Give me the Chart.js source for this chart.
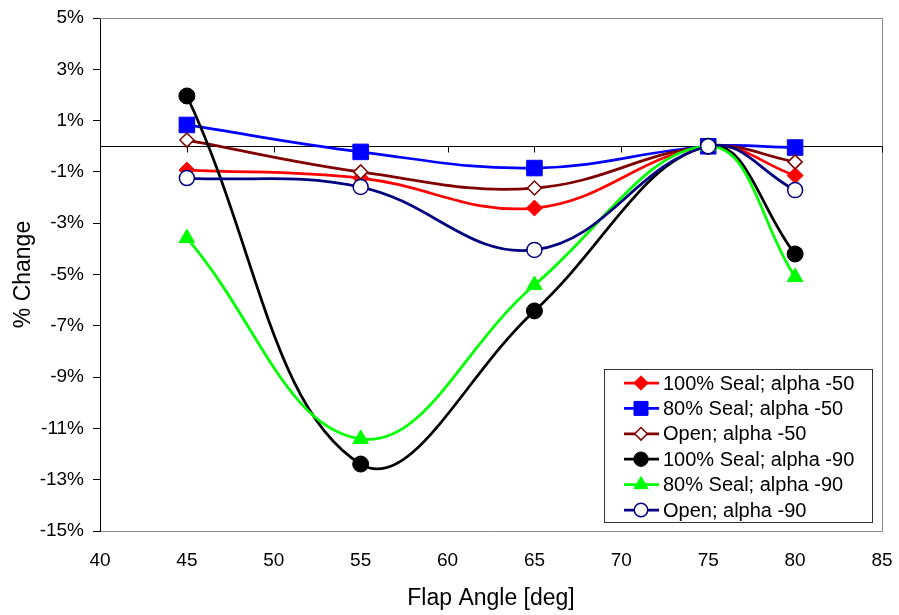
<!DOCTYPE html>
<html>
<head>
<meta charset="utf-8">
<script src="https://cdn.jsdelivr.net/npm/chart.js@4"></script>
<style>
  html, body { margin: 0; padding: 0; background: #fff; }
</style>
</head>
<body>
<canvas id="myChart" width="899" height="615"></canvas>
<script>
// flap angles (deg)
var flapAngles = [45, 55, 65, 75, 80];

// % change per configuration
var seal100Alpha50 = [-0.93, -1.24, -2.41, 0, -1.14];
var seal80Alpha50 = [0.83, -0.22, -0.85, 0, -0.05];
var openAlpha50 = [0.24, -1.0, -1.63, 0, -0.61];
var seal100Alpha90 = [1.96, -12.39, -6.42, 0, -4.2];
var seal80Alpha90 = [-3.58, -11.41, -5.41, 0, -5.1];
var openAlpha90 = [-1.24, -1.59, -4.04, 0, -1.71];

var seriesNames = ["100% Seal; alpha -50", "80% Seal; alpha -50", "Open; alpha -50",
                   "100% Seal; alpha -90", "80% Seal; alpha -90", "Open; alpha -90"];
var seriesValues = [seal100Alpha50, seal80Alpha50, openAlpha50, seal100Alpha90, seal80Alpha90, openAlpha90];

var lineColors = ["#ff0000", "#0000ff", "#800000", "#000000", "#00ff00", "#000080"];
var fillColors = ["#ff0000", "#0000ff", "#ffffff", "#000000", "#00ff00", "#ffffff"];
var markers = ["rectRot", "rect", "rectRot", "circle", "triangle", "circle"];
var markerSizes = [8, 11, 7, 8, 9, 7.5];

var yTickValues = [-15, -13, -11, -9, -7, -5, -3, -1, 1, 3, 5];
var xTickValues = [40, 45, 50, 55, 60, 65, 70, 75, 80, 85];

var font = "'Liberation Sans', Arial, sans-serif";

function toPoints(vals) {
  return vals.map(function (v, i) { return { x: flapAngles[i], y: v }; });
}

var datasets = seriesValues.map(function (vals, i) {
  return {
    label: seriesNames[i],
    data: toPoints(vals),
    borderColor: lineColors[i],
    backgroundColor: fillColors[i],
    pointBackgroundColor: fillColors[i],
    pointBorderColor: lineColors[i],
    pointBorderWidth: (fillColors[i] == "#ffffff") ? 1.5 : 1,
    pointStyle: markers[i],
    pointRadius: markerSizes[i],
    borderWidth: 2.75,
    tension: 0.4,
    order: 6 - i,
    clip: false
  };
});

// zero line, top/right frame, x tick marks on the zero line, in-plot legend
var extras = {
  id: "extras",
  beforeDatasetsDraw: function (chart) {
    var ctx = chart.ctx, a = chart.chartArea;
    var xs = chart.scales.x, ys = chart.scales.y;
    ctx.save();
    ctx.strokeStyle = "#888";
    ctx.lineWidth = 1;
    ctx.beginPath();
    ctx.moveTo(a.left, a.top + 0.5); ctx.lineTo(a.right + 0.5, a.top + 0.5);
    ctx.lineTo(a.right + 0.5, a.bottom);
    ctx.stroke();
    var y0 = Math.round(ys.getPixelForValue(0)) + 0.5;
    ctx.strokeStyle = "#000";
    ctx.beginPath();
    ctx.moveTo(a.left, y0); ctx.lineTo(a.right, y0);
    xTickValues.forEach(function (t) {
      var px = Math.round(xs.getPixelForValue(t)) + 0.5;
      ctx.moveTo(px, y0); ctx.lineTo(px, y0 + 6);
    });
    ctx.stroke();
    ctx.restore();
  },
  afterDraw: function (chart) {
    var ctx = chart.ctx;
    var bx = 604, by = 369, bw = 268, bh = 153;
    ctx.save();
    ctx.fillStyle = "#fff";
    ctx.fillRect(bx, by, bw, bh);
    ctx.strokeStyle = "#333";
    ctx.lineWidth = 1;
    ctx.strokeRect(bx + 0.5, by + 0.5, bw, bh);
    ctx.font = "20px " + font;
    ctx.textBaseline = "middle";
    chart.data.datasets.forEach(function (ds, i) {
      var y = by + 14 + i * 25.4;
      ctx.strokeStyle = ds.borderColor;
      ctx.lineWidth = 2.75;
      ctx.beginPath();
      ctx.moveTo(624, y); ctx.lineTo(659, y);
      ctx.stroke();
      ctx.fillStyle = ds.pointBackgroundColor;
      ctx.strokeStyle = ds.pointBorderColor;
      ctx.lineWidth = ds.pointBorderWidth;
      Chart.helpers.drawPoint(ctx, {
        pointStyle: ds.pointStyle,
        radius: ds.pointRadius * 0.9,
        rotation: 0,
        borderWidth: ds.pointBorderWidth
      }, 641, y);
      ctx.fillStyle = "#000";
      ctx.fillText(ds.label, 663, y + 1);
    });
    ctx.restore();
  }
};

new Chart("myChart", {
  type: "line",
  data: { datasets: datasets },
  plugins: [extras],
  options: {
    responsive: false,
    animation: false,
    layout: { padding: { top: 18, right: 17, left: 0, bottom: 0 } },
    plugins: {
      legend: { display: false },
      tooltip: { enabled: false }
    },
    scales: {
      x: {
        type: "linear",
        min: 40,
        max: 85,
        afterBuildTicks: function (s) { s.ticks = xTickValues.map(function (v) { return { value: v }; }); },
        afterFit: function (s) { s.height = 84; s.paddingLeft = 0; s.paddingRight = 0; },
        grid: { display: false, drawTicks: false },
        border: { color: "#888", width: 1 },
        ticks: { color: "#000", font: { family: font, size: 19 }, padding: 18, maxRotation: 0 },
        title: { display: true, text: "Flap Angle [deg]", color: "#000", font: { family: font, size: 23 }, padding: { top: 0, bottom: 3 } }
      },
      y: {
        min: -15,
        max: 5,
        afterBuildTicks: function (s) { s.ticks = yTickValues.map(function (v) { return { value: v }; }); },
        afterFit: function (s) { s.width = 100; s.paddingTop = 0; s.paddingBottom = 0; },
        grid: { drawOnChartArea: false, drawTicks: true, tickLength: 7, color: "#000" },
        border: { color: "#000", width: 1 },
        ticks: {
          color: "#000",
          font: { family: font, size: 19 },
          padding: 9,
          callback: function (v) { return v + "%"; }
        },
        title: { display: true, text: "% Change", color: "#000", font: { family: font, size: 23 }, padding: { top: 10, bottom: 0 } }
      }
    }
  }
});
</script>
</body>
</html>
